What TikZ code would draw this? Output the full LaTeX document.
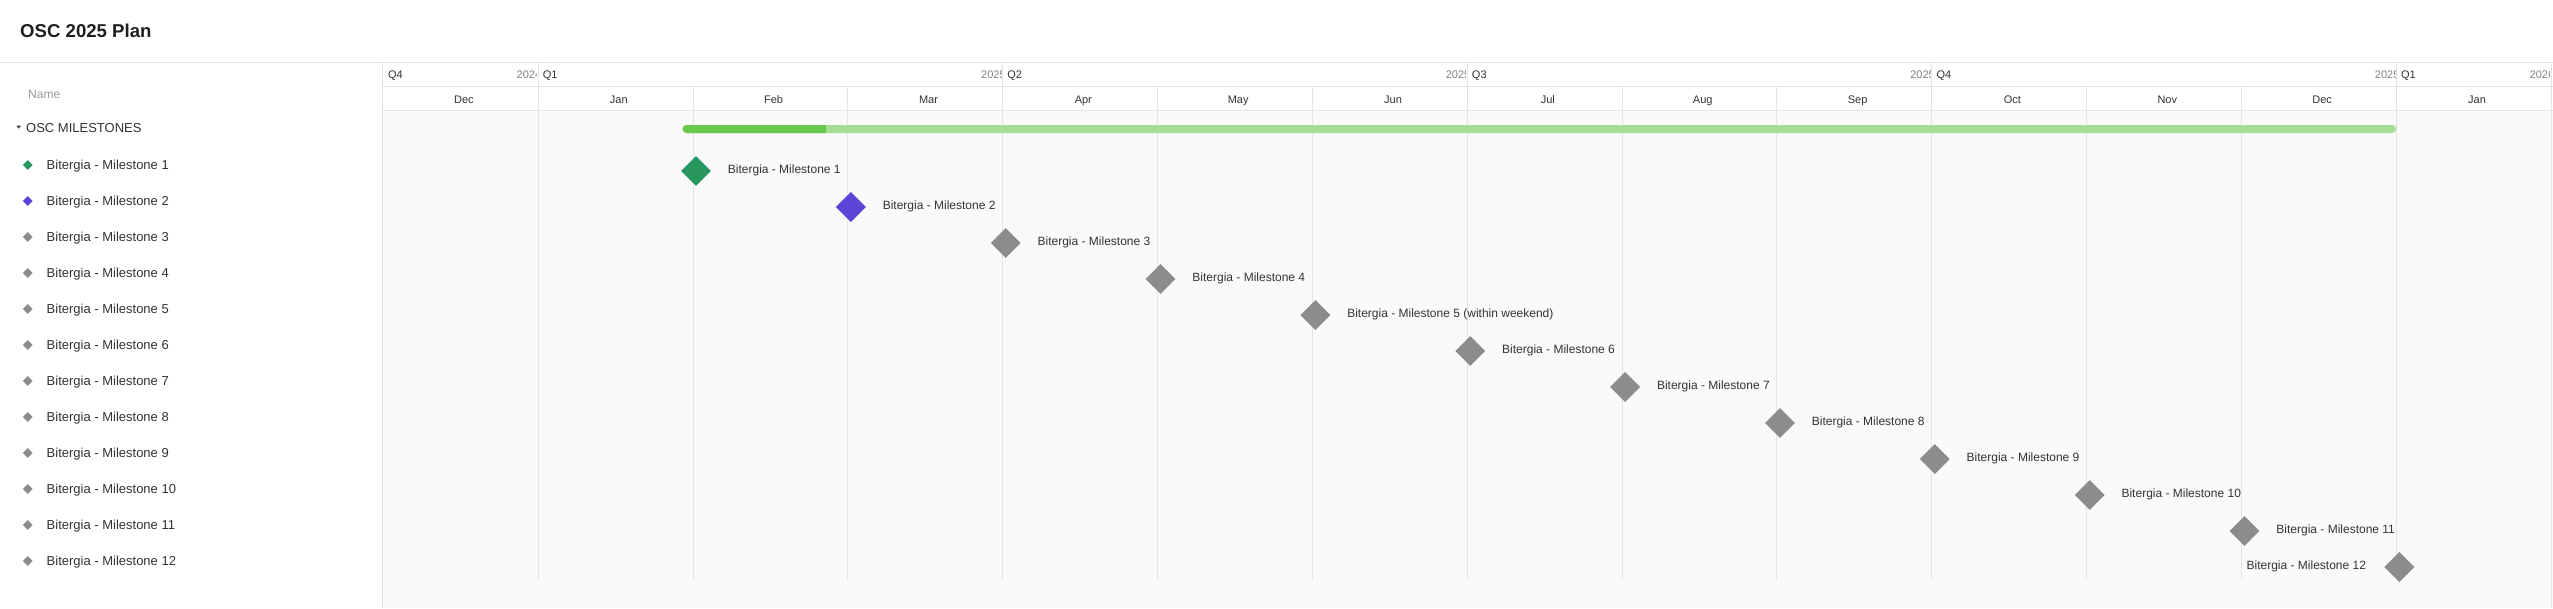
\documentclass[tikz,border=0pt]{standalone}
\usepackage{fontspec}
\setmainfont{Liberation Sans}
\usetikzlibrary{shapes.geometric,positioning}
\definecolor{gridgray}{HTML}{E4E4E4}
\definecolor{bodybg}{HTML}{FAFAFA}
\definecolor{txtdark}{HTML}{333333}
\definecolor{txtgray}{HTML}{999999}
\definecolor{msgreen}{HTML}{27965F}
\definecolor{mspurple}{HTML}{5B45D6}
\definecolor{msgray}{HTML}{8C8C8C}
\definecolor{bardark}{HTML}{6AC84F}
\definecolor{barlight}{HTML}{A6DE94}
\begin{document}
\begin{tikzpicture}[x=1pt,y=-1pt,
  msbig/.style={diamond,fill=#1,minimum size=30pt,inner sep=0pt},
  mssmall/.style={diamond,fill=#1,minimum size=10pt,inner sep=0pt},
  rowtext/.style={anchor=west,inner sep=0pt,text=txtdark,font=\fontsize{13}{15}\selectfont,text height=9.3pt,text depth=0pt},
  bartext/.style={inner sep=0pt,text=txtdark,font=\fontsize{12}{14}\selectfont,text height=8.6pt,text depth=0pt},
  headtext/.style={inner sep=0pt,text=txtdark,font=\fontsize{11}{13}\selectfont,text height=7.9pt,text depth=0pt}]
\useasboundingbox (0,0) rectangle (2553,608);
\fill[white] (0,0) rectangle (2553,608);
\fill[bodybg] (383,110) rectangle (2553,608);
% header
\node[anchor=west,inner sep=0pt,text=black!88,font=\bfseries\fontsize{18.6}{20}\selectfont,text height=13.3pt,text depth=0pt] (title) at (20,31) {OSC 2025 Plan};
\node[rowtext,text=txtgray,font=\fontsize{12}{14}\selectfont,text height=8.6pt] (name) at (28,94) {Name};
\draw[gridgray] (0,62) -- (2553,62);
\draw[gridgray] (383,86.5) -- (2553,86.5);
\draw[gridgray] (383,110) -- (2553,110);
\draw[gridgray] (382,62) -- (382,608);
\draw[gridgray] (2551.5,62) -- (2551.5,608);
% months
\foreach \m [count=\k] in {Dec,Jan,Feb,Mar,Apr,May,Jun,Jul,Aug,Sep,Oct,Nov,Dec,Jan}{
  \pgfmathsetmacro\xa{383+(\k-1)*154.85}
  \pgfmathsetmacro\xb{383+\k*154.85}
  \ifnum\k<14 \draw[gridgray] (\xb,86.5) -- (\xb,579); \fi
  \node[headtext] at ({(\xa+\xb)/2+3.5},99.3) {\m};
}
% quarters
\foreach \q/\ka/\kb/\yr in {Q4/0/1/2024,Q1/1/4/2025,Q2/4/7/2025,Q3/7/10/2025,Q4/10/13/2025,Q1/13/14/2026}{
  \pgfmathsetmacro\xa{383+\ka*154.85}
  \pgfmathsetmacro\xb{383+\kb*154.85}
  \draw[gridgray] (\xb,62) -- (\xb,86.5);
  \node[headtext,anchor=west] at (\xa+4.8,74.3) {\q};
  \begin{scope}
    \clip (\xa,62) rectangle (\xb-1,86.5);
    \node[headtext,anchor=east,text=black!50] at (\xb+3.5,74.3) {\yr};
  \end{scope}
}
% group row
\fill[txtdark] (16.5,125.5) -- (21,125.5) -- (18.75,128.6) -- cycle;
\node[rowtext] (grp) at (26,128.3) {OSC MILESTONES};
\coordinate (bs) at (682.7,125);
\coordinate (be) at (2396,133);
\fill[barlight,rounded corners=3.8pt] (bs) rectangle (be);
\begin{scope}
  \clip (680,120) rectangle (826,138);
  \fill[bardark,rounded corners=3.8pt] (bs) rectangle (be);
\end{scope}
% milestones
\foreach \c [count=\i] in {msgreen,mspurple,msgray,msgray,msgray,msgray,msgray,msgray,msgray,msgray,msgray,msgray}{
  \node[mssmall=\c] (d\i) at (27.7,{165+36*(\i-1)}) {};
  \node[rowtext,right=13.6pt of d\i] (n\i) {Bitergia - Milestone \i};
  \node[msbig=\c] (m\i) at ({386.3+(\i+1)*154.85},{171+36*(\i-1)}) {};
}
\foreach \i in {1,2,3,4,6,7,8,9,10,11}
  \node[bartext,right=16.5pt of m\i,yshift=2pt] (l\i) {Bitergia - Milestone \i};
\node[bartext,right=16.5pt of m5,yshift=2pt] (l5) {Bitergia - Milestone 5 (within weekend)};
\node[bartext,left=18pt of m12,yshift=2pt] (l12) {Bitergia - Milestone 12};
\end{tikzpicture}
\end{document}
